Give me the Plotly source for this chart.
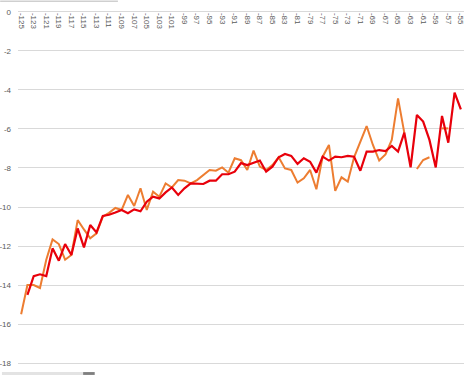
import plotly.graph_objects as go

years = list(range(-125, -54))

orange_vals = [
    -15.5, -14.0, -14.0, -14.15, -12.7, -11.66, -11.9, -12.7, -12.46, -10.67,
    -11.15, -11.6, -11.35, -10.5, -10.3, -10.05, -10.15, -9.38, -9.95, -9.04,
    -10.15, -9.21, -9.47, -8.79, -9.0, -8.62, -8.65, -8.79, -8.62, -8.36,
    -8.1, -8.14, -7.97, -8.24, -7.5, -7.6, -8.1, -7.11, -7.93, -8.1,
    -7.85, -7.45, -8.02, -8.1, -8.75, -8.53, -8.1, -9.09, -7.42, -6.82,
    -9.17, -8.48, -8.7, -7.45, -6.65, -5.85, -6.82, -7.62, -7.3, -6.56,
    -4.43, -6.2, None, -8.05, -7.59, -7.45, None, -5.97, -5.97, None,
    None,
]

red_vals = [
    None, -14.5, -13.54, -13.45, -13.54, -12.12, -12.75, -11.9, -12.46, -11.1,
    -12.07, -10.92, -11.3, -10.46, -10.4, -10.28, -10.15, -10.32, -10.12, -10.22,
    -9.73, -9.47, -9.56, -9.25, -9.0, -9.38, -9.04, -8.79, -8.79, -8.82,
    -8.65, -8.65, -8.32, -8.32, -8.19, -7.75, -7.85, -7.73, -7.62, -8.19,
    -7.93, -7.45, -7.28, -7.38, -7.79, -7.5, -7.68, -8.24, -7.42, -7.62,
    -7.42, -7.45, -7.38, -7.42, -8.14, -7.16, -7.16, -7.08, -7.13, -6.87,
    -7.16, -6.19, -7.97, -5.28, -5.62, -6.56, -7.97, -5.33, -6.7, -4.14,
    -4.99,
]

x_tickvals = list(range(-125, -54, 2))
x_ticktext = [str(v) for v in x_tickvals]
y_tickvals = list(range(-18, 1, 2))
y_ticktext = [str(v) for v in y_tickvals]

Y_MIN, Y_MAX = -18.15, 0.15
zero_pos = (0 - Y_MIN) / (Y_MAX - Y_MIN)

fig = go.Figure()
fig.add_trace(go.Scatter(x=years, y=orange_vals, mode="lines",
                         line=dict(color="#ED7D31", width=2),
                         connectgaps=False, showlegend=False))
fig.add_trace(go.Scatter(x=years, y=red_vals, mode="lines", xaxis="x2",
                         line=dict(color="#E8000B", width=2.2),
                         connectgaps=False, showlegend=False))

fig.update_layout(
    width=473, height=375,
    margin=dict(l=18, r=9, t=9, b=9, autoexpand=False),
    paper_bgcolor="white", plot_bgcolor="white",
    font=dict(family="Liberation Sans, Arial, sans-serif", size=8, color="#595959"),
    xaxis=dict(
        range=[-125.5, -54.5], automargin=False, showticklabels=False,
        showgrid=False, zeroline=False, showline=False, ticks="",
    ),
    xaxis2=dict(
        range=[-125.5, -54.5], overlaying="x", anchor="free", position=zero_pos,
        side="bottom", automargin=False,
        tickmode="array", tickvals=x_tickvals, ticktext=x_ticktext,
        tickangle=90, ticklabelstandoff=0,
        showgrid=False, zeroline=False, showline=False, ticks="",
        tickfont=dict(size=8, color="#595959"),
    ),
    yaxis=dict(
        range=[Y_MIN, Y_MAX], automargin=False,
        tickmode="array", tickvals=y_tickvals, ticktext=y_ticktext,
        showgrid=True, gridcolor="#D9D9D9", gridwidth=1,
        zeroline=False, showline=False, ticks="",
        ticklabelstandoff=6,
        tickfont=dict(size=8, color="#595959"),
    ),
    shapes=[
        dict(type="line", xref="paper", yref="paper", x0=-0.04, x1=0.224,
             y0=1.022, y1=1.022, line=dict(color="#CFCFCF", width=1.5)),
        dict(type="rect", xref="paper", yref="paper", x0=-0.036, x1=0.146,
             y0=-0.025, y1=-0.017, fillcolor="#E3E3E3", line=dict(width=0)),
        dict(type="rect", xref="paper", yref="paper", x0=0.146, x1=0.172,
             y0=-0.025, y1=-0.017, fillcolor="#7F7F7F", line=dict(width=0)),
    ],
)

fig.write_html("out.html",
               config={"displayModeBar": False},
               post_script="document.body.style.margin='0';document.body.style.overflow='hidden';")
